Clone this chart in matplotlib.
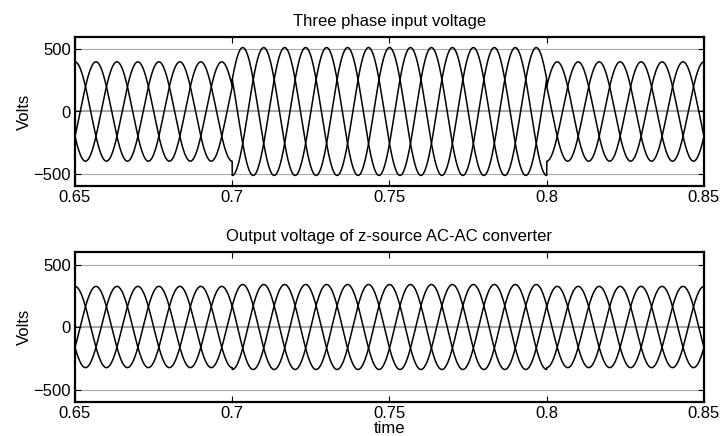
import matplotlib
matplotlib.use("Agg")
import matplotlib.pyplot as plt
import numpy as np

plt.rcParams['font.family'] = ['Liberation Sans', 'DejaVu Sans']
plt.rcParams['font.size'] = 12

# Segment boundaries (s) and peak amplitudes (V)
seg_edges = [0.65, 0.70, 0.80, 0.85]
input_amp = [400, 515, 400]     # sag/swell on the input between 0.7 and 0.8
output_amp = [325, 340, 325]    # converter output stays nearly constant
freq_hz = 50
phase_deg = [0, -120, 120]
t_peak = 0.65                   # phase A has a crest at the left edge

x_ticks = [0.65, 0.7, 0.75, 0.8, 0.85]
x_ticklabels = ["0.65", "0.7", "0.75", "0.8", "0.85"]
y_ticks = [-500, 0, 500]
titles = ["Three phase input voltage", "Output voltage of z-source AC-AC converter"]

t = np.linspace(seg_edges[0], seg_edges[-1], 6001)


def three_phase(amps):
    idx = np.clip(np.searchsorted(seg_edges, t, side="right") - 1, 0, len(amps) - 1)
    a = np.asarray(amps)[idx]
    return [a * np.cos(2 * np.pi * freq_hz * (t - t_peak) + np.deg2rad(p)) for p in phase_deg]


W, H = 721, 436
fig = plt.figure(figsize=(W / 100, H / 100), dpi=100)
ax_top = fig.add_axes([75 / W, 1 - 186 / H, (704 - 75) / W, (186 - 37) / H])
ax_bot = fig.add_axes([75 / W, 1 - 402 / H, (704 - 75) / W, (402 - 252) / H])

for ax, amps, title in zip([ax_top, ax_bot], [input_amp, output_amp], titles):
    for y in y_ticks:
        ax.axhline(y, color="#a8a8a8", lw=0.8 if y else 1.5, zorder=1)
    for v in three_phase(amps):
        ax.plot(t, v, color="black", lw=1.1, zorder=2)
    ax.set_xlim(seg_edges[0], seg_edges[-1])
    ax.set_ylim(-600, 600)
    ax.set_xticks(x_ticks)
    ax.set_xticklabels(x_ticklabels)
    ax.set_yticks(y_ticks)
    ax.tick_params(direction="in", top=True, right=True, length=4, width=0.8)
    ax.tick_params(axis="x", pad=3)
    ax.tick_params(axis="y", pad=3)
    for s in ax.spines.values():
        s.set_linewidth(1.6)
    ax.set_title(title, pad=8, fontsize=12)
    ax.set_ylabel("Volts", labelpad=1)

ax_bot.set_xlabel("time", labelpad=0)

fig.savefig("out.png", dpi=100)
